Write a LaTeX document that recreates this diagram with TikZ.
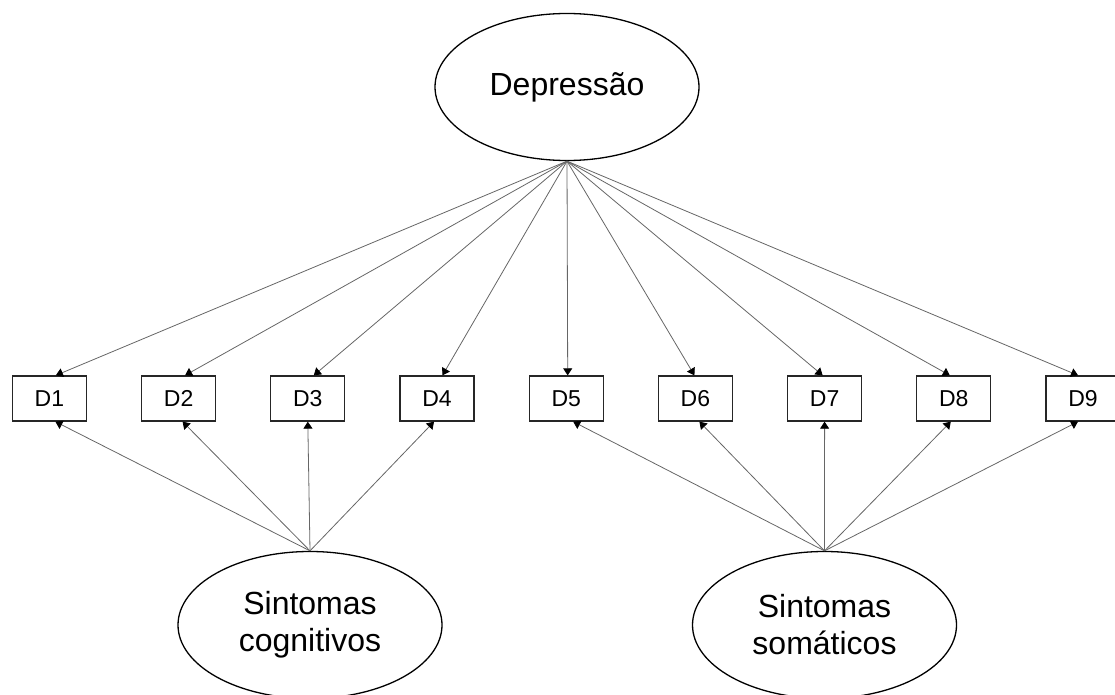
\documentclass[tikz,border=0pt]{standalone}
\usepackage{fontspec}
\setmainfont{Liberation Sans}
\usetikzlibrary{arrows.meta,shapes.geometric}

\tikzset{
  latent/.style={draw=black, line width=1.3pt, ellipse, minimum width=264pt,
    minimum height=147pt, inner sep=0pt, align=center,
    font=\fontsize{32}{37}\selectfont},
  item/.style={draw=black!85, line width=1.3pt, rectangle, minimum width=74pt,
    minimum height=45pt, inner sep=0pt, font=\fontsize{23}{27}\selectfont},
  link/.style={draw=black!60, line width=0.8pt,
    -{Triangle[length=7pt,width=9pt,color=black]}}
}

\begin{document}
\begin{tikzpicture}[x=1pt, y=-1pt]
\useasboundingbox (0,0) rectangle (1115,695);

% latent factors
\node[latent] (dep) at (567,87) {Depressão};
\node[latent] (cog) at (310,625) {Sintomas\\cognitivos};
\node[latent] (som) at (824.5,625) {Sintomas\\somáticos};

% observed items
\foreach \i in {1,...,9} {
  \node[item] (D\i) at ({49.4+(\i-1)*129.2},398.5) {D\i};
}

% general factor loadings
\draw[link] (dep.south) -- ([xshift=6.5pt]D1.north);
\draw[link] (dep.south) -- ([xshift=6.5pt]D2.north);
\draw[link] (dep.south) -- ([xshift=6pt]D3.north);
\draw[link] (dep.south) -- ([xshift=5.5pt]D4.north);
\draw[link] (dep.south) -- ([xshift=1.5pt]D5.north);
\draw[link] (dep.south) -- ([xshift=-1pt]D6.north);
\draw[link] (dep.south) -- ([xshift=-2pt]D7.north);
\draw[link] (dep.south) -- ([xshift=-4pt]D8.north);
\draw[link] (dep.south) -- ([xshift=-5pt]D9.north);

% cognitive symptoms
\draw[link] (cog.north) -- ([xshift=6pt]D1.south);
\draw[link] (cog.north) -- ([xshift=4pt]D2.south);
\draw[link] (cog.north) -- (D3.south);
\draw[link] (cog.north) -- ([xshift=-3pt]D4.south);

% somatic symptoms
\draw[link] (som.north) -- ([xshift=7pt]D5.south);
\draw[link] (som.north) -- ([xshift=4pt]D6.south);
\draw[link] (som.north) -- (D7.south);
\draw[link] (som.north) -- ([xshift=-3pt]D8.south);
\draw[link] (som.north) -- ([xshift=-5pt]D9.south);
\end{tikzpicture}
\end{document}
